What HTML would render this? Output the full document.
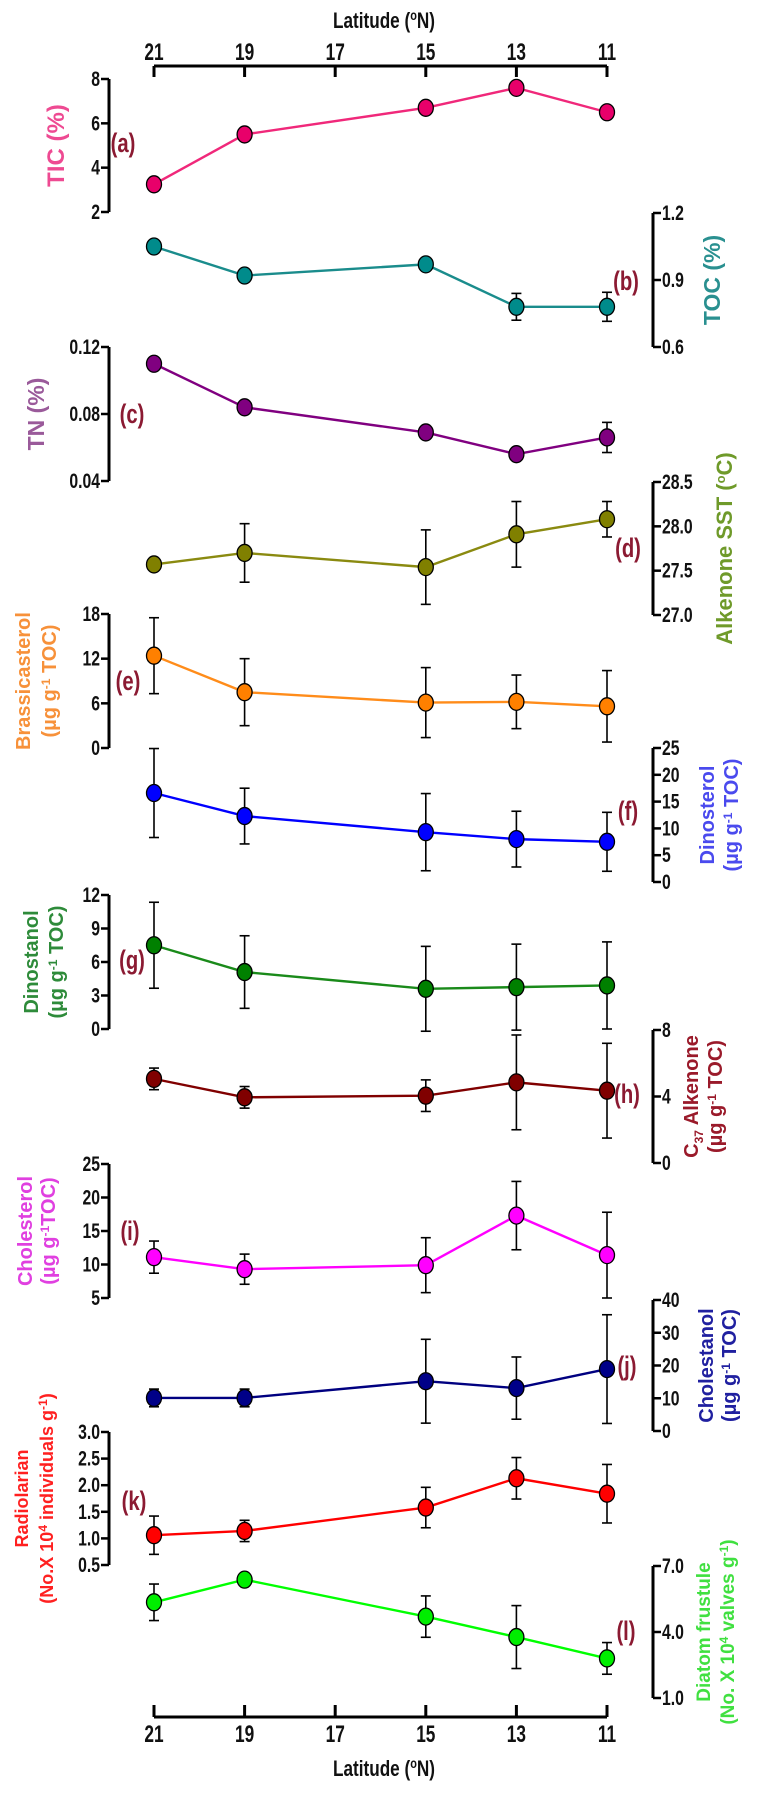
<!DOCTYPE html>
<html><head><meta charset="utf-8"><style>
html,body{margin:0;padding:0;background:#fff;}
svg{display:block;}
.tk{font-family:"Liberation Sans",sans-serif;font-weight:bold;fill:#111;}
.ttl{font-family:"Liberation Sans",sans-serif;font-weight:bold;}
.lab{font-family:"Liberation Sans",sans-serif;font-weight:bold;fill:#8b1a32;}
</style></head><body>
<svg id="chart" width="769" height="1793" viewBox="0 0 769 1793" xmlns="http://www.w3.org/2000/svg">
<g id="axes"></g>
<g id="marks"></g>
</svg>
<script>
const latitudes=[21,19,15,13,11];
const latTicks=[21,19,17,15,13,11];
const ticValues=[3.25,5.5,6.7,7.6,6.5];
const ticErr=[0.15,0.12,0.12,0.12,0.12];
const tocValues=[1.05,0.92,0.97,0.78,0.78];
const tocErr=[0.01,0.01,0.02,0.06,0.065];
const tnValues=[0.110,0.084,0.069,0.056,0.066];
const tnErr=[0.001,0.002,0.002,0.001,0.009];
const sstValues=[27.57,27.7,27.54,27.91,28.08];
const sstErr=[0.03,0.33,0.42,0.37,0.2];
const brassValues=[12.4,7.5,6.1,6.2,5.6];
const brassErr=[5.1,4.5,4.7,3.6,4.8];
const dinosterolValues=[16.6,12.3,9.3,8.0,7.5];
const dinosterolErr=[8.3,5.2,7.2,5.2,5.5];
const dinostanolValues=[7.5,5.1,3.6,3.75,3.9];
const dinostanolErr=[3.85,3.25,3.8,3.85,3.9];
const c37Values=[5.06,3.95,4.05,4.85,4.35];
const c37Err=[0.65,0.65,0.95,2.85,2.85];
const cholValues=[11.1,9.3,9.9,17.3,11.4];
const cholErr=[2.4,2.25,4.1,5.1,6.4];
const cholestanolValues=[10.1,10.1,15.2,13.1,18.9];
const cholestanolErr=[2.7,2.7,12.8,9.5,16.6];
const radValues=[1.06,1.14,1.58,2.13,1.84];
const radErr=[0.36,0.2,0.38,0.39,0.55];
const diatomValues=[5.35,6.38,4.7,3.77,2.8];
const diatomErr=[0.83,0.2,0.94,1.43,0.72];
const ticTicks=[2,4,6,8];
const tocTicks=["0.6","0.9","1.2"];
const tnTicks=["0.04","0.08","0.12"];
const sstTicks=["27.0","27.5","28.0","28.5"];
const brassTicks=[0,6,12,18];
const dinosterolTicks=[0,5,10,15,20,25];
const dinostanolTicks=[0,3,6,9,12];
const c37Ticks=[0,4,8];
const cholTicks=[5,10,15,20,25];
const cholestanolTicks=[0,10,20,30,40];
const radTicks=["0.5","1.0","1.5","2.0","2.5","3.0"];
const diatomTicks=["1.0","4.0","7.0"];

const NS="http://www.w3.org/2000/svg";
const axesG=document.getElementById('axes');
const marksG=document.getElementById('marks');
function mk(tag,attrs,parent){const e=document.createElementNS(NS,tag);for(const k in attrs)e.setAttribute(k,attrs[k]);parent.appendChild(e);return e;}
function ctext(x,y,sx,attrs,parent){const a=Object.assign({x:0,y:0,transform:'translate('+x+' '+y+') scale('+sx+' 1)'},attrs);return mk('text',a,parent);}
const X0=154,X1=607;
function xScale(lat){return X0+(21-lat)*(X1-X0)/10;}
const LEFTX=109,RIGHTX=653;

function latAxis(y,top){
  const g=mk('g',{},axesG);
  
  
  mk('line',{x1:X0,x2:X1,y1:y,y2:y,stroke:'#000','stroke-width':3},g);
  latTicks.forEach(t=>{
    const x=xScale(t);
    mk('line',{x1:x,x2:x,y1:y,y2:top?y+11:y-12,stroke:'#000','stroke-width':3},g);
    const tx=ctext(x,top?60:1742,0.72,{'text-anchor':'middle',class:'tk',style:'font-size:24px'},g);
    tx.textContent=t;
    
    
  });
  const tt=ctext(384,top?28:1776,0.78,{'text-anchor':'middle',class:'tk',style:'font-size:22px'},g);
  tt.innerHTML='Latitude (<tspan style="font-size:14px" dy="-8">o</tspan><tspan dy="8">N)</tspan>';
  
  
}
latAxis(66,true);
latAxis(1717,false);

const SUP='style="font-size:12px"';
const panels=[
 {id:'tic',vals:ticValues,err:ticErr,ticks:ticTicks,min:2,max:8,yTop:79,yBot:212,side:'L',line:'#f0287a',fill:'#e8006a',tc:'#ee4a92',fs:24,title:['TIC (%)'],tx:[64],lab:'(a)',lx:123,ly:152},
 {id:'toc',vals:tocValues,err:tocErr,ticks:tocTicks,min:0.6,max:1.2,yTop:213,yBot:347,side:'R',line:'#1a8c8c',fill:'#008b8b',tc:'#2a9090',fs:23,title:['TOC (%)'],tx:[720],lab:'(b)',lx:626,ly:290},
 {id:'tn',vals:tnValues,err:tnErr,ticks:tnTicks,min:0.04,max:0.12,yTop:347,yBot:481,side:'L',line:'#800080',fill:'#800080',tc:'#9a5a9a',fs:23,title:['TN (%)'],tx:[44],lab:'(c)',lx:132,ly:423},
 {id:'sst',vals:sstValues,err:sstErr,ticks:sstTicks,min:27.0,max:28.5,yTop:482,yBot:615,side:'R',line:'#8a8a10',fill:'#808000',tc:'#6f9a2a',fs:22,title:['Alkenone SST (<tspan style="font-size:13px" dy="-7">o</tspan><tspan dy="7">C)</tspan>'],tx:[732],lab:'(d)',lx:628,ly:557},
 {id:'brassicasterol',vals:brassValues,err:brassErr,ticks:brassTicks,min:0,max:18,yTop:614,yBot:748,side:'L',line:'#ff8c1a',fill:'#ff8000',tc:'#f7913a',fs:20,title:['Brassicasterol','(µg g<tspan '+SUP+' dy="-6">-1</tspan><tspan dy="6"> TOC)</tspan>'],tx:[30,56],lab:'(e)',lx:128,ly:690},
 {id:'dinosterol',vals:dinosterolValues,err:dinosterolErr,ticks:dinosterolTicks,min:0,max:25,yTop:748,yBot:882,side:'R',line:'#0000ff',fill:'#0000ff',tc:'#4a4aee',fs:20,title:['Dinosterol','(µg g<tspan '+SUP+' dy="-6">-1</tspan><tspan dy="6"> TOC)</tspan>'],tx:[714,738],lab:'(f)',lx:628,ly:820},
 {id:'dinostanol',vals:dinostanolValues,err:dinostanolErr,ticks:dinostanolTicks,min:0,max:12,yTop:895,yBot:1029,side:'L',line:'#1a8a1a',fill:'#008000',tc:'#2e8b3a',fs:20,title:['Dinostanol','(µg g<tspan '+SUP+' dy="-6">-1</tspan><tspan dy="6"> TOC)</tspan>'],tx:[38,63],lab:'(g)',lx:132,ly:969},
 {id:'c37-alkenone',vals:c37Values,err:c37Err,ticks:c37Ticks,min:0,max:8,yTop:1030,yBot:1163,side:'R',line:'#800000',fill:'#800000',tc:'#9a1a2a',fs:20,title:['C<tspan '+SUP+' dy="5">37</tspan><tspan dy="-5"> Alkenone</tspan>','(µg g<tspan '+SUP+' dy="-6">-1</tspan><tspan dy="6"> TOC)</tspan>'],tx:[698,722],lab:'(h)',lx:627,ly:1103},
 {id:'cholesterol',vals:cholValues,err:cholErr,ticks:cholTicks,min:5,max:25,yTop:1164,yBot:1298,side:'L',line:'#ff00ff',fill:'#ff00ff',tc:'#e040e0',fs:20,title:['Cholesterol','(µg g<tspan '+SUP+' dy="-6">-1</tspan><tspan dy="6">TOC)</tspan>'],tx:[32,55],lab:'(i)',lx:130,ly:1240},
 {id:'cholestanol',vals:cholestanolValues,err:cholestanolErr,ticks:cholestanolTicks,min:0,max:40,yTop:1300,yBot:1431,side:'R',line:'#000080',fill:'#000088',tc:'#2020a0',fs:20,title:['Cholestanol','(µg g<tspan '+SUP+' dy="-6">-1</tspan><tspan dy="6"> TOC)</tspan>'],tx:[713,736],lab:'(j)',lx:627,ly:1375},
 {id:'radiolarian',vals:radValues,err:radErr,ticks:radTicks,min:0.5,max:3.0,yTop:1432,yBot:1565,side:'L',line:'#ff0000',fill:'#ff0000',tc:'#ff2020',fs:18,title:['Radiolarian','(No.X 10<tspan '+SUP+' dy="-6">4</tspan><tspan dy="6">  individuals g</tspan><tspan '+SUP+' dy="-6">-1</tspan><tspan dy="6">)</tspan>'],tx:[28,53],lab:'(k)',lx:134,ly:1510},
 {id:'diatom',vals:diatomValues,err:diatomErr,ticks:diatomTicks,min:1.0,max:7.0,yTop:1566,yBot:1698,side:'R',line:'#00ff00',fill:'#00ee00',tc:'#40e040',fs:19,title:['Diatom frustule','(No. X 10<tspan '+SUP+' dy="-6">4</tspan><tspan dy="6"> valves g</tspan><tspan '+SUP+' dy="-6">-1</tspan><tspan dy="6">)</tspan>'],tx:[710,734],lab:'(l)',lx:626,ly:1640}
];

panels.forEach(p=>{
  const ys=v=>p.yBot-(v-p.min)*(p.yBot-p.yTop)/(p.max-p.min);
  const ag=mk('g',{},axesG);
  
  
  const ax=p.side==='L'?LEFTX:RIGHTX;
  mk('line',{x1:ax,x2:ax,y1:p.yTop,y2:p.yBot,stroke:'#000','stroke-width':3},ag);
  p.ticks.forEach(t=>{
    const y=ys(parseFloat(t));
    const tx2=p.side==='L'?ax-8:ax+8;
    mk('line',{x1:ax,x2:tx2,y1:y,y2:y,stroke:'#000','stroke-width':2.5},ag);
    const tl=ctext(p.side==='L'?ax-9:ax+9,y+7,0.75,{'text-anchor':p.side==='L'?'end':'start',class:'tk',style:'font-size:21px'},ag);
    tl.textContent=t;
    
    
  });
  const cy=(p.yTop+p.yBot)/2;
  p.title.forEach((line,i)=>{
    const tt=mk('text',{x:p.tx[i],y:cy,transform:'rotate(-90 '+p.tx[i]+' '+cy+')','text-anchor':'middle',class:'ttl',fill:p.tc,style:'font-size:'+p.fs+'px'},ag);
    tt.innerHTML=line;
    
    
  });
  const lb=ctext(p.lx,p.ly,0.75,{'text-anchor':'middle',class:'lab',style:'font-size:27px'},ag);
  lb.textContent=p.lab;
  
  

  const sg=mk('g',{},marksG);
  
  
  const pts=p.vals.map((v,i)=>[xScale(latitudes[i]),ys(v)]);
  const ln=mk('polyline',{points:pts.map(q=>q.join(',')).join(' '),fill:'none',stroke:p.line,'stroke-width':2.4},sg);
  
  
  p.vals.forEach((v,i)=>{
    const x=xScale(latitudes[i]);
    const y1=ys(v+p.err[i]),y2=ys(v-p.err[i]);
    const eg=mk('g',{stroke:'#000','stroke-width':1.6},sg);
    
    
    mk('line',{x1:x,x2:x,y1:y1,y2:y2},eg);
    mk('line',{x1:x-5,x2:x+5,y1:y1,y2:y1},eg);
    mk('line',{x1:x-5,x2:x+5,y1:y2,y2:y2},eg);
    const c=mk('ellipse',{cx:x,cy:ys(v),rx:7.5,ry:8.5,fill:p.fill,stroke:'#000','stroke-width':1.3},sg);
    
    
  });
});
</script>
</body></html>
